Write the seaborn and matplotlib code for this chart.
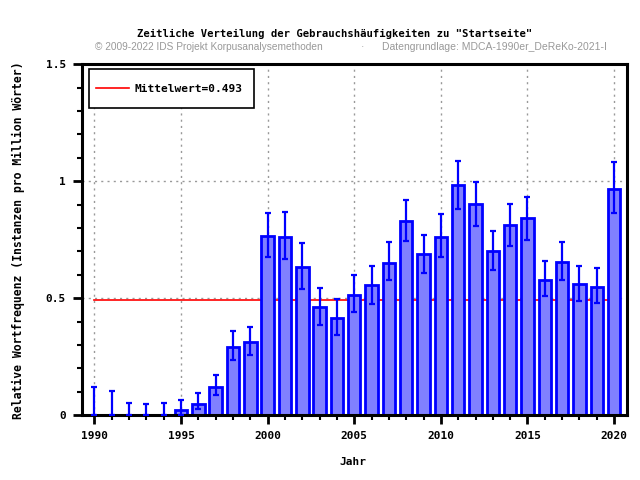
import numpy as np
import pandas as pd
import seaborn as sns
import matplotlib.pyplot as plt
from matplotlib.patches import Rectangle
from matplotlib.ticker import MultipleLocator

# values
years = list(range(1990, 2021))
freq = [0.0, 0.0, 0.0, 0.0, 0.0, 0.024, 0.050, 0.122, 0.293, 0.315,
        0.768, 0.763, 0.632, 0.461, 0.414, 0.515, 0.556, 0.652, 0.829, 0.688,
        0.763, 0.983, 0.902, 0.701, 0.812, 0.842, 0.580, 0.656, 0.562, 0.550,
        0.968]
err_low = [0.0, 0.0, 0.0, 0.0, 0.0, 0.0, 0.027, 0.087, 0.236, 0.259,
           0.676, 0.669, 0.541, 0.387, 0.343, 0.441, 0.476, 0.578, 0.746, 0.608,
           0.676, 0.882, 0.809, 0.621, 0.724, 0.749, 0.510, 0.578, 0.488, 0.480,
           0.866]
err_high = [0.121, 0.105, 0.054, 0.050, 0.054, 0.067, 0.097, 0.172, 0.362, 0.379,
            0.866, 0.870, 0.738, 0.545, 0.498, 0.601, 0.639, 0.742, 0.921, 0.772,
            0.862, 1.087, 0.997, 0.789, 0.904, 0.934, 0.661, 0.742, 0.639, 0.631,
            1.083]
mean_value = 0.493

df = pd.DataFrame({"Jahr": years, "freq": freq})

mono = "DejaVu Sans Mono"

fig = plt.figure(figsize=(6.4, 4.8), dpi=100)
ax = fig.add_axes([0.128, 0.135, 0.851, 0.731])

# grid at major ticks
ax.grid(True, which="major", color="#999999", linestyle=(0, (1.5, 3)), linewidth=1)
ax.set_axisbelow(True)

# mean line behind bars
ax.plot([1990, 2020], [mean_value, mean_value], color="#ff0000", linewidth=1.2,
        zorder=1.5, label=f"Mittelwert={mean_value}")

sns.barplot(data=df, x="Jahr", y="freq", native_scale=True, width=0.72,
            color="#8080ff", saturation=1, edgecolor="#0000ff", linewidth=2,
            errorbar=None, ax=ax, zorder=2)

yerr = [np.array(freq) - np.array(err_low), np.array(err_high) - np.array(freq)]
ax.errorbar(years, freq, yerr=yerr, fmt="none", ecolor="#0000ff",
            elinewidth=1.6, capsize=2.5, capthick=1.6, zorder=3)

ax.set_xlim(1989.28, 2020.72)
ax.set_ylim(0, 1.5)
ax.xaxis.set_major_locator(MultipleLocator(5))
ax.xaxis.set_minor_locator(MultipleLocator(1))
ax.yaxis.set_major_locator(MultipleLocator(0.5))
ax.yaxis.set_minor_locator(MultipleLocator(0.1))
ax.set_yticks([0, 0.5, 1, 1.5])
ax.set_yticklabels(["0", "0.5", "1", "1.5"])

ax.tick_params(which="major", length=6.5, width=2, direction="out", pad=5,
               labelsize=8)
ax.tick_params(which="minor", length=3.5, width=1.5, direction="out")
for lbl in ax.get_xticklabels() + ax.get_yticklabels():
    lbl.set_fontfamily(mono)
    lbl.set_fontweight("bold")
for s in ax.spines.values():
    s.set_linewidth(2.2)
    s.set_color("black")

ax.set_xlabel("")
ax.set_ylabel("")

# legend without its own frame, box drawn separately (taller than wide padding)
ax.legend(loc="center left", bbox_to_anchor=(0.0129, 0.931), borderaxespad=0,
          frameon=False, handlelength=3, handletextpad=0.5, borderpad=0.6,
          prop={"family": mono, "weight": "bold", "size": 8})
ax.add_patch(Rectangle((0.0129, 0.8755), 0.303, 0.111, transform=ax.transAxes,
                       facecolor="white", edgecolor="black", linewidth=1.2,
                       zorder=4))
ax.get_legend().set_zorder(5)

fig.text(0.523, 0.929, 'Zeitliche Verteilung der Gebrauchshäufigkeiten zu "Startseite"',
         ha="center", va="center", family=mono, weight="bold", size=7.6)
fig.text(0.148, 0.902, "© 2009-2022 IDS Projekt Korpusanalysemethoden",
         ha="left", va="center", family="Liberation Sans", size=7.3, color="#999999")
fig.text(0.567, 0.902, "·", ha="center", va="center", family="Liberation Sans",
         size=7.3, color="#999999")
fig.text(0.597, 0.902, "Datengrundlage: MDCA-1990er_DeReKo-2021-I",
         ha="left", va="center", family="Liberation Sans", size=7.5, color="#999999")

fig.text(0.552, 0.037, "Jahr", ha="center", va="center", family=mono,
         weight="bold", size=8)
fig.text(0.029, 0.5, "Relative Wortfrequenz (Instanzen pro Million Wörter)",
         ha="center", va="center", rotation=90, family=mono, weight="bold", size=8.3)

fig.savefig("out.png", dpi=100)
